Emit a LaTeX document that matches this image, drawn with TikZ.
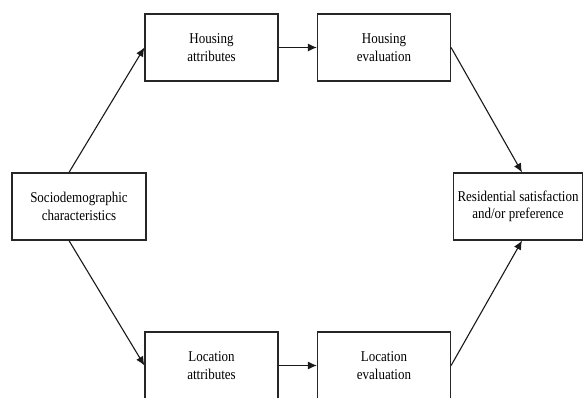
\documentclass[tikz,border=0pt]{standalone}
\usepackage{fontspec}
\setmainfont{Liberation Serif}
\newfontfamily\boxfont[FakeStretch=0.87]{Liberation Serif}
\usetikzlibrary{arrows.meta}

\tikzset{
  stagebox/.style={draw=black!85, line width=1.2bp, fill=white, align=center,
    minimum width=133bp, minimum height=67bp, inner sep=0pt,
    font=\boxfont\fontsize{15}{17.5}\selectfont},
  flow/.style={draw=black!90, line width=1.1bp, -{Latex[length=9bp,width=8bp]}},
}

\begin{document}
\begin{tikzpicture}[x=1bp, y=-1bp]
  \useasboundingbox (0,0) rectangle (584,397);
  \clip (0,0) rectangle (584,397);
  % boxes
  \node[stagebox, minimum width=134bp] (socio) at (79,206.5) {Sociodemographic\\characteristics};
  \node[stagebox] (hattr) at (211.5,47.5) {Housing\\attributes};
  \node[stagebox] (heval) at (384,47.5) {Housing\\evaluation};
  \node[stagebox] (lattr) at (211.5,365.5) {Location\\attributes};
  \node[stagebox] (leval) at (384,365.5) {Location\\evaluation};
  \node[stagebox, minimum width=129bp] (resid) at (518,206.5) {Residential satisfaction\\and/or preference};
  % connectors
  \draw[flow] ([xshift=-10bp]socio.north) -- (hattr.west);
  \draw[flow] ([xshift=-10bp]socio.south) -- (lattr.west);
  \draw[flow] (hattr) -- (heval);
  \draw[flow] (lattr) -- (leval);
  \draw[flow] (heval.east) -- ([xshift=4bp]resid.north);
  \draw[flow] (leval.east) -- ([xshift=4bp]resid.south);
\end{tikzpicture}
\end{document}
